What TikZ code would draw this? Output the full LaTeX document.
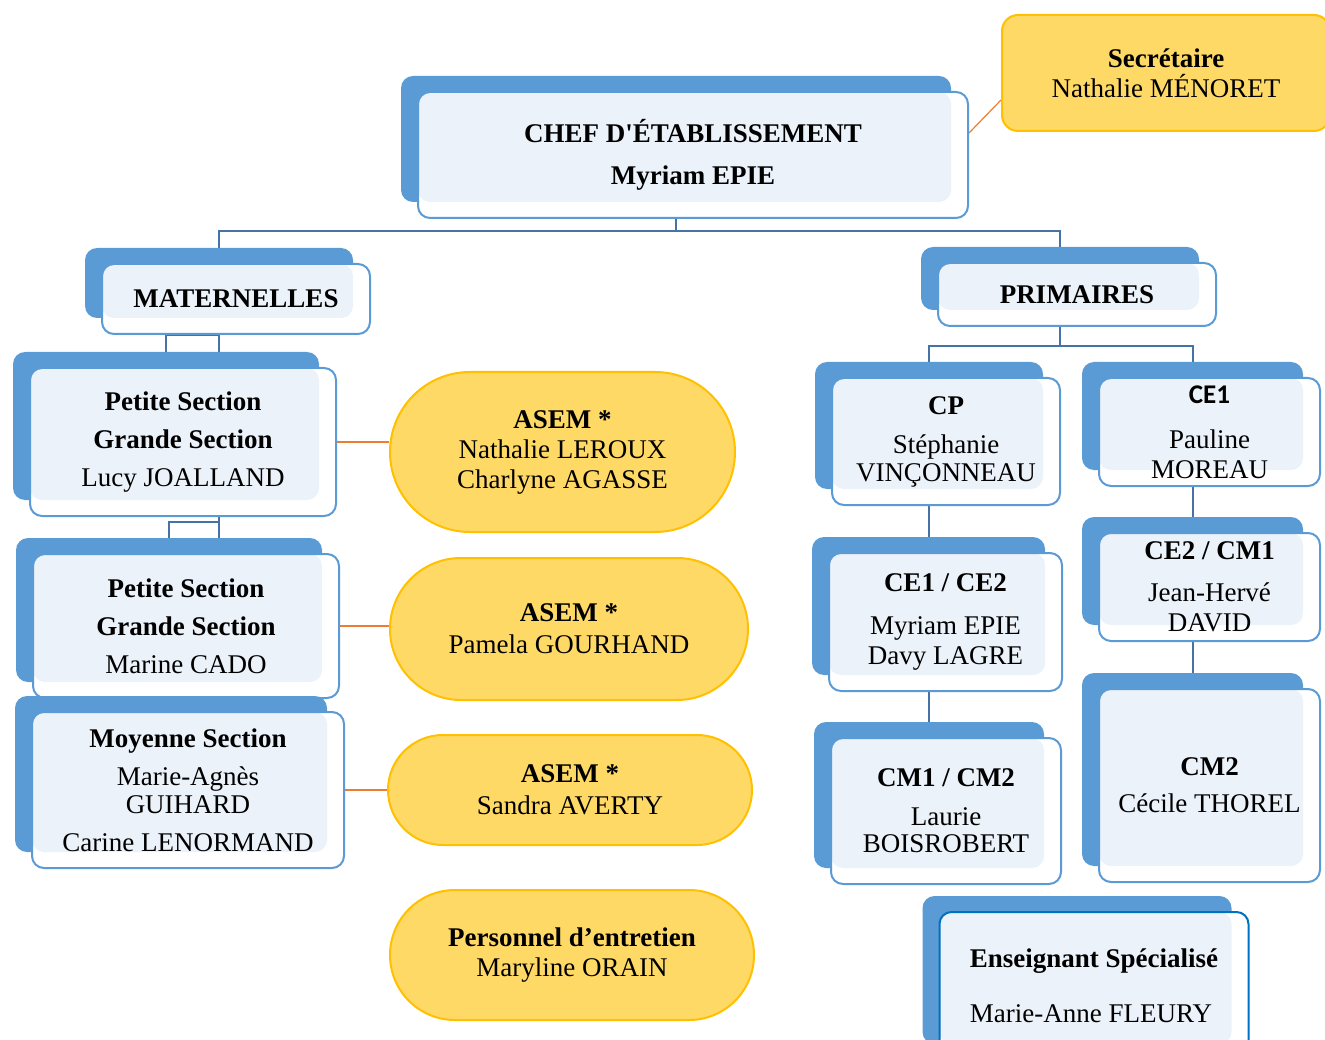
\documentclass[tikz,border=0pt]{standalone}
\usepackage{fontspec}
\setmainfont{Liberation Serif}
\newfontfamily\calibrisub{Carlito}
\usepackage{xcolor}
\usetikzlibrary{shapes.misc,backgrounds,calc}
\definecolor{CardBlue}{RGB}{91,155,213}
\definecolor{CardLight}{RGB}{236,242,250}
\definecolor{LinkBlue}{RGB}{70,115,165}
\definecolor{DeepBlue}{RGB}{0,112,192}
\definecolor{AsemFill}{RGB}{255,217,102}
\definecolor{AsemLine}{RGB}{255,192,0}
\definecolor{Tangerine}{RGB}{237,125,49}

\tikzset{
  card/.style 2 args={draw=CardBlue, line width=2pt, fill=white, rounded corners=12pt,
    minimum width=#1pt, minimum height=#2pt, inner sep=0pt, align=center,
    font=\fontsize{27}{30}\selectfont,
    preaction={fill=CardBlue, transform canvas={shift={(-17pt,16pt)}}},
    path picture={\fill[CardLight, rounded corners=12pt] (path picture bounding box.north west)
      rectangle ([shift={(-17pt,16pt)}]path picture bounding box.south east);}},
  asem/.style 2 args={rounded rectangle, draw=AsemLine, line width=2pt, fill=AsemFill,
    minimum width=#1pt, minimum height=#2pt, inner sep=0pt, align=center,
    font=\fontsize{27}{30}\selectfont},
  secbox/.style={draw=AsemLine, line width=2pt, fill=AsemFill, rounded corners=16pt,
    minimum width=328pt, minimum height=116pt, inner sep=0pt, align=center,
    font=\fontsize{27}{30}\selectfont},
  link/.style={draw=LinkBlue, line width=2pt},
  tie/.style={draw=Tangerine, line width=1.2pt}
}

\begin{document}
\begin{tikzpicture}[x=1pt, y=-1pt]
    \useasboundingbox (0,0) rectangle (1325,1040);
    \clip (0,0) rectangle (1325,1040);

    \node[card={550}{126}] (chef) at (693,155) {\bfseries CHEF D\textquotesingle ÉTABLISSEMENT\\[12pt]\bfseries Myriam EPIE};
    \node[secbox] (secr) at (1166,73) {\textbf{Secrétaire}\\Nathalie MÉNORET};

    \node[card={268}{70}] (mat) at (236,299) {\bfseries MATERNELLES};
    \node[card={278}{63}] (prim) at (1077,294.5) {\bfseries PRIMAIRES};

    \node[card={306}{148}] (ps1) at (183,442) {\textbf{Petite Section}\\[8pt]\textbf{Grande Section}\\[8pt]Lucy JOALLAND};
    \node[card={306}{144}] (ps2) at (186,626) {\textbf{Petite Section}\\[8pt]\textbf{Grande Section}\\[8pt]Marine CADO};
    \node[card={312}{156}] (ms) at (188,790) {\textbf{Moyenne Section}\\[8pt]Marie-Agnès\\[-2pt]GUIHARD\\[8pt]Carine LENORMAND};

    \node[asem={345}{160}] (asemA) at (562.5,452) {\textbf{ASEM *}\\Nathalie LEROUX\\Charlyne AGASSE};
    \node[asem={358}{142}] (asemB) at (569,629) {\textbf{ASEM *}\\[2pt]Pamela GOURHAND};
    \node[asem={364}{110}] (asemC) at (570,790) {\textbf{ASEM *}\\[2pt]Sandra AVERTY};
    \node[asem={364}{130}] (menage) at (572,955) {\textbf{Personnel d’entretien}\\Maryline ORAIN};

    \node[card={228}{127}] (cp) at (946,441.5) {\textbf{CP}\\[9pt]Stéphanie\\[-2pt]VINÇONNEAU};
    \node[card={221}{108}] (ce1) at (1209.5,432) {{\calibrisub\bfseries CE1}\\[15pt]Pauline\\MOREAU};
    \node[card={233}{138}] (ceA) at (945.5,622) {\textbf{CE1 / CE2}\\[13pt]Myriam EPIE\\Davy LAGRE};
    \node[card={221}{108}] (ceB) at (1209.5,587) {\textbf{CE2 / CM1}\\[12pt]Jean-Hervé\\DAVID};
    \node[card={230}{146}] (cmA) at (946,811) {\textbf{CM1 / CM2}\\[9pt]Laurie\\[-3pt]BOISROBERT};
    \node[card={221}{193}] (cmB) at (1209.5,785.5) {\textbf{CM2}\\[7pt]Cécile THOREL};
    \node[card={309}{148}, draw=DeepBlue, align=left] (spec) at (1094,986) {\textbf{Enseignant Spécialisé}\\[25pt]Marie-Anne FLEURY};

    \begin{pgfonlayer}{background}
        \draw[link] ([xshift=-17pt]chef.south) -- ++(0,12) coordinate (hub) -| ([xshift=-17pt]mat.north);
        \draw[link] (hub) -| ([xshift=-17pt]prim.north);

        \coordinate (mtrunk) at ([xshift=-17pt]mat.south);
        \draw[link] (mtrunk) -- (mtrunk |- ps2.north);
        \draw[link] (mtrunk) -| ([xshift=-17pt]ps1.north);
        \draw[link] ($(mtrunk |- ps1.south)+(0,5)$) -| ([xshift=-17pt]ps2.north);

        \draw[link] ([xshift=-17pt]prim.south) -- ++(0,19) coordinate (phub) -| ([xshift=-17pt]cp.north);
        \draw[link] (phub) -| ([xshift=-17pt]ce1.north);
        \draw[link] ([xshift=-17pt]cp.south) -- ([xshift=-17pt]cp.south |- ceA.north);
        \draw[link] ([xshift=-17pt]ceA.south) -- ([xshift=-17pt]ceA.south |- cmA.north);
        \draw[link] ([xshift=-17pt]ce1.south) -- ([xshift=-17pt]ce1.south |- ceB.north);
        \draw[link] ([xshift=-17pt]ceB.south) -- ([xshift=-17pt]ceB.south |- cmB.north);

        \draw[tie] ([yshift=22pt]chef.east) -- ([yshift=-27pt]secr.west);
        \draw[tie] (ps1.east) -- (ps1.east -| asemA.west);
        \draw[tie] (ps2.east) -- (ps2.east -| asemB.west);
        \draw[tie] (ms.east) -- (ms.east -| asemC.west);
    \end{pgfonlayer}
\end{tikzpicture}
\end{document}
